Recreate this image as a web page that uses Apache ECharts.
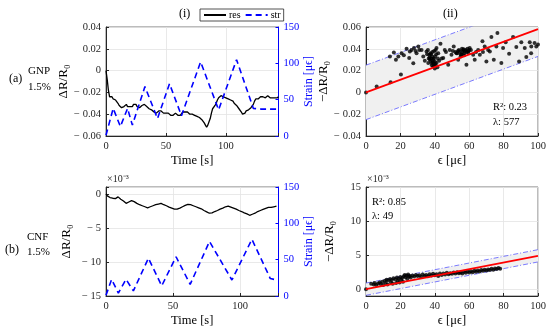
<!DOCTYPE html>
<html><head><meta charset="utf-8">
<script src="https://cdn.jsdelivr.net/npm/echarts@6/dist/echarts.min.js"></script>
<style>html,body{margin:0;padding:0;background:#fff}#c{width:550px;height:331px}</style>
</head><body><div id="c"></div>
<script>
// ---- data ----
const resA = [[0,0.000],[1,-0.008],[2,-0.018],[3,-0.024],[4,-0.025],[5,-0.024],[6,-0.026],[7,-0.025],[8,-0.027],[9,-0.028],[10,-0.030],[11,-0.032],[12,-0.033],[13,-0.034],[14,-0.035],[15,-0.033],[16,-0.032],[17,-0.031],[18,-0.033],[19,-0.034],[20,-0.033],[21,-0.034],[22,-0.033],[23,-0.031],[24,-0.032],[25,-0.031],[26,-0.033],[27,-0.032],[28,-0.034],[29,-0.033],[30,-0.032],[31,-0.033],[32,-0.031],[33,-0.032],[34,-0.033],[35,-0.034],[36,-0.035],[37,-0.034],[38,-0.036],[39,-0.037],[40,-0.038],[41,-0.037],[42,-0.039],[43,-0.039],[44,-0.037],[45,-0.036],[46,-0.037],[47,-0.038],[48,-0.039],[49,-0.038],[50,-0.039],[51,-0.040],[52,-0.039],[53,-0.040],[54,-0.041],[55,-0.040],[56,-0.041],[57,-0.040],[58,-0.039],[59,-0.040],[60,-0.041],[61,-0.040],[62,-0.041],[63,-0.040],[64,-0.038],[65,-0.037],[66,-0.038],[67,-0.039],[68,-0.038],[69,-0.039],[70,-0.040],[71,-0.039],[72,-0.040],[73,-0.041],[74,-0.041],[75,-0.042],[76,-0.042],[77,-0.043],[78,-0.043],[79,-0.044],[80,-0.045],[81,-0.046],[82,-0.048],[83,-0.050],[84,-0.052],[85,-0.050],[86,-0.047],[87,-0.044],[88,-0.039],[89,-0.035],[90,-0.034],[91,-0.032],[92,-0.030],[93,-0.027],[94,-0.025],[95,-0.024],[96,-0.023],[97,-0.022],[98,-0.024],[99,-0.023],[100,-0.025],[101,-0.024],[102,-0.026],[103,-0.026],[104,-0.027],[105,-0.028],[106,-0.028],[107,-0.030],[108,-0.031],[109,-0.032],[110,-0.033],[111,-0.035],[112,-0.036],[113,-0.038],[114,-0.040],[115,-0.040],[116,-0.039],[117,-0.037],[118,-0.036],[119,-0.036],[120,-0.035],[121,-0.034],[122,-0.033],[123,-0.031],[124,-0.028],[125,-0.026],[126,-0.025],[127,-0.026],[128,-0.025],[129,-0.024],[130,-0.025],[131,-0.024],[132,-0.024],[133,-0.025],[134,-0.024],[135,-0.023],[136,-0.024],[137,-0.025],[138,-0.024],[139,-0.025],[140,-0.024],[141,-0.025],[142,-0.024],[143,-0.025],[144,-0.024]];
const strA = [[0,1],[6,38],[12,13],[18,38],[22,15],[32.5,68],[43,24],[53,72],[63,28],[79,102],[94,36],[109,105],[123,38],[130,37],[144,37]];
const resB = [[0,0],[1,-0.3],[2,-0.45],[3,-0.55],[4,-0.6],[5,-0.65],[6,-0.65],[7,-0.7],[8,-0.55],[9,-0.45],[10,-0.6],[11,-0.8],[12,-0.95],[13,-1.05],[14,-1.25],[15,-1.4],[16,-1.35],[17,-1.2],[18,-1.1],[19,-1.0],[20,-1.05],[21,-1.15],[22,-1.3],[23,-1.4],[24,-1.5],[25,-1.6],[26,-1.65],[27,-1.75],[28,-1.85],[29,-1.9],[30,-2.0],[31,-2.05],[32,-2.0],[33,-1.9],[34,-1.85],[35,-1.75],[36,-1.7],[37,-1.6],[38,-1.55],[39,-1.5],[40,-1.45],[41,-1.4],[42,-1.5],[43,-1.6],[44,-1.7],[45,-1.75],[46,-1.85],[47,-1.95],[48,-2.0],[49,-2.1],[50,-2.2],[51,-2.25],[52,-2.3],[53,-2.25],[54,-2.15],[55,-2.1],[56,-2.0],[57,-1.9],[58,-1.8],[59,-1.7],[60,-1.6],[61,-1.55],[62,-1.5],[63,-1.6],[64,-1.65],[65,-1.75],[66,-1.8],[67,-1.9],[68,-2.0],[69,-2.05],[70,-2.1],[71,-2.2],[72,-2.35],[73,-2.45],[74,-2.5],[75,-2.65],[76,-2.75],[77,-2.85],[78,-2.9],[79,-2.8],[80,-2.7],[81,-2.6],[82,-2.5],[83,-2.45],[84,-2.35],[85,-2.25],[86,-2.2],[87,-2.1],[88,-2.0],[89,-1.9],[90,-1.85],[91,-1.8],[92,-1.85],[93,-1.95],[94,-2.0],[95,-2.1],[96,-2.15],[97,-2.25],[98,-2.35],[99,-2.45],[100,-2.55],[101,-2.6],[102,-2.7],[103,-2.8],[104,-2.9],[105,-2.95],[106,-3.05],[107,-3.15],[108,-3.1],[109,-3.0],[110,-2.95],[111,-2.85],[112,-2.75],[113,-2.6],[114,-2.55],[115,-2.45],[116,-2.4],[117,-2.3],[118,-2.25],[119,-2.15],[120,-2.1],[121,-2.0],[122,-1.95],[123,-2.0],[124,-1.95],[125,-1.9],[126,-1.85],[127,-1.8]];
const strB = [[0,1],[4.2,23],[9.2,4],[14.9,23],[20.4,7],[31.6,52],[41.5,14],[52.2,54],[62.7,16],[77.1,75],[93.8,22],[108.7,78],[122.4,24],[127.4,22]];
const scatA = [[0,0],[6.2,0.0054],[14.3,0.0094],[20.3,0.0164],[13.9,0.033],[16.2,0.0367],[17.4,0.030],[18.8,0.033],[20.7,0.036],[22,0.034],[23.6,0.040],[25.1,0.0315],[25.5,0.0376],[26.5,0.039],[27.5,0.0267],[27.9,0.0407],[28.8,0.038],[29.4,0.036],[30.4,0.042],[31,0.039],[32.3,0.039],[33.3,0.033],[34.2,0.029],[35.2,0.0376],[36,0.039],[36.2,0.027],[36.8,0.0345],[37.1,0.0305],[37.5,0.036],[38.1,0.027],[38.5,0.033],[39.1,0.024],[39.5,0.031],[40,0.0284],[40.3,0.026],[40.8,0.035],[41,0.0407],[41.5,0.023],[42,0.036],[42.5,0.029],[43.3,0.0447],[44,0.031],[44.9,0.0315],[45.8,0.039],[46.5,0.037],[47.8,0.0253],[48.7,0.039],[49.7,0.0345],[50.5,0.038],[51,0.042],[52,0.037],[52.6,0.036],[53.6,0.030],[54.5,0.0376],[55,0.035],[55.5,0.0345],[56,0.037],[56.5,0.039],[57,0.036],[58,0.039],[58.4,0.0253],[59,0.040],[59.4,0.0367],[60.3,0.0407],[61,0.039],[62.3,0.0345],[63.2,0.030],[64,0.037],[65.2,0.039],[66.2,0.0345],[67.7,0.047],[68,0.037],[69,0.042],[70,0.0284],[71,0.039],[72,0.0376],[72.9,0.0508],[74.3,0.030],[75.8,0.042],[76.4,0.0545],[78.7,0.027],[79.7,0.0407],[81.2,0.046],[83.2,0.0355],[85.5,0.0508],[87.4,0.0416],[89,0.0284],[90.3,0.046],[92.3,0.0407],[93.2,0.0324],[95.2,0.046],[96,0.036],[96.1,0.042],[98,0.0453],[99,0.042],[100,0.044],[37,0.032],[37.5,0.029],[38,0.031],[38.3,0.025],[38.8,0.028],[39,0.030],[39.3,0.027],[39.8,0.025],[40,0.022],[40.2,0.033],[41,0.027],[41.8,0.031],[36.5,0.031],[37.8,0.035],[38.6,0.037],[39.6,0.038],[40.5,0.039],[35.5,0.035],[53,0.036],[53.5,0.038],[54,0.039],[55.8,0.040],[56.8,0.0395],[57.5,0.038],[58.5,0.037],[59.5,0.038],[60,0.039],[57,0.034],[55,0.033]];
const scatB = [[0,0],[3,0.8],[4.5,0.7],[5,0.9],[6,0.6],[7,0.85],[8,1.0],[8.5,0.75],[9.5,1.1],[10,0.6],[11,1.25],[11.5,0.9],[12,1.4],[12.5,0.7],[13,1.3],[14,1.5],[14.5,1.0],[15,1.35],[15.5,0.8],[16,1.6],[17,1.45],[17.5,0.9],[18,1.7],[18.5,1.2],[19,1.55],[19.5,1.0],[20,1.8],[20.5,1.4],[21,1.65],[21.5,1.1],[22,1.9],[22.5,2.1],[23,1.75],[23.5,2.0],[24,1.5],[24.5,2.15],[25,1.85],[25.5,1.95],[26,1.7],[27,2.0],[28,1.85],[29,2.1],[30,1.95],[31,2.05],[32,1.8],[33,2.15],[34,1.95],[35,2.1],[36,1.9],[37,2.2],[38,2.0],[39,2.25],[40,2.05],[41,2.2],[42,1.95],[43,2.3],[44,2.1],[45,2.3],[46,2.15],[47,2.4],[48,2.2],[49,2.35],[50,2.25],[51,2.45],[52,2.3],[53,2.5],[54,2.35],[55,2.45],[56,2.3],[57,2.55],[58,2.4],[59,2.6],[60,2.45],[61,2.65],[62,2.5],[63,2.7],[64,2.55],[65,2.75],[66,2.6],[67,2.8],[68,2.7],[69,2.85],[70,2.75],[71,2.9],[72,2.8],[73,3.0],[74,2.85],[75,3.05],[76,2.95],[77,3.1],[78,3.0]];
const fitX = [0, 100];
const fitA = [0, 0.058];
const halfA = 0.025;
const fitB = [0, 4.9];
const halfB = 0.9;
// ---- style ----
const SERIF = 'Liberation Serif';
const AX = '#262626';
const BLUE = '#0000ff';
const BANDC = '#5a5aff';
const GRIDC = '#e3e3e3';
const fmtNum = v => { const r = +(+v).toFixed(4); return r < 0 ? '\u2212 ' + Math.abs(r) : String(r); };
function xAx(grid, min, max, interval, name, fmt) {
  return { type:'value', gridIndex:grid, min, max, interval, name, nameLocation:'middle', nameGap:18,
    nameTextStyle:{fontFamily:SERIF, fontSize:12.5, color:'#000'},
    axisLine:{show:true, onZero:false, lineStyle:{color:AX, width:1}}, axisTick:{show:true, inside:true, length:3, lineStyle:{color:AX}},
    axisLabel:{fontFamily:SERIF, fontSize:10.5, color:'#262626', margin:5, formatter: fmt},
    splitLine:{show:true, lineStyle:{color:GRIDC, width:0.8}} };
}
function yAx(grid, min, max, interval, name, gap, fmt, opts) {
  const o = { type:'value', gridIndex:grid, min, max, name, nameLocation:'middle', nameGap:gap, nameRotate:90,
    nameTextStyle:{fontFamily:SERIF, fontSize:13, color:'#000'},
    axisLine:{show:true, onZero:false, lineStyle:{color:AX, width:1}}, axisTick:{show:true, inside:true, length:3, lineStyle:{color:AX}},
    axisLabel:{fontFamily:SERIF, fontSize:10.5, color:'#262626', margin:5, formatter: fmt},
    splitLine:{show:true, lineStyle:{color:GRIDC, width:0.8}} };
  if (interval != null) o.interval = interval;
  return Object.assign(o, opts || {});
}
function rightAx(grid) {
  return { type:'value', gridIndex:grid, position:'right', min:0, max:150, interval:50, name:'Strain [\u03bc\u03f5]',
    nameLocation:'middle', nameGap:24, nameRotate:90,
    nameTextStyle:{fontFamily:SERIF, fontSize:12, color:BLUE},
    axisLine:{show:true, onZero:false, lineStyle:{color:BLUE, width:1}}, axisTick:{show:true, inside:true, length:3, lineStyle:{color:BLUE}},
    axisLabel:{fontFamily:SERIF, fontSize:10.5, color:BLUE, margin:5}, splitLine:{show:false} };
}
const tickFmt = step => v => (Math.abs(v / step - Math.round(v / step)) < 1e-6 ? fmtNum(v) : '');
const grids = [
  {left:106, top:27, width:172.5, height:109},
  {left:366, top:27, width:172, height:109},
  {left:106, top:187, width:172.5, height:109},
  {left:366, top:187, width:172, height:109}
].map(g => Object.assign(g, {show:true, borderColor:'#555', borderWidth:0.8, backgroundColor:'transparent', containLabel:false}));

function bandSeries(xi, yi, fit, half) {
  const lo = fit.map(v => v - half), hi = fit.map(v => v + half);
  return [
    { type:'custom', xAxisIndex:xi, yAxisIndex:yi, z:1, silent:true,
      data:[[fitX[0], lo[0], hi[0], fitX[1], lo[1], hi[1]]],
      renderItem:(params, api) => {
        const a = api.coord([api.value(0), api.value(1)]);
        const b = api.coord([api.value(0), api.value(2)]);
        const c = api.coord([api.value(3), api.value(5)]);
        const d = api.coord([api.value(3), api.value(4)]);
        const cs = params.coordSys;
        return { type:'polygon', shape:{points:[a,b,c,d]}, style:{fill:'#f0f0f0'},
          clipPath:{type:'rect', shape:{x:cs.x, y:cs.y, width:cs.width, height:cs.height}} };
      } },
    { type:'line', xAxisIndex:xi, yAxisIndex:yi, symbol:'none', z:3, silent:true, data: fitX.map((x,i)=>[x, lo[i]]),
      lineStyle:{color:BANDC, width:0.8, type:[5,2,1,2]} },
    { type:'line', xAxisIndex:xi, yAxisIndex:yi, symbol:'none', z:3, silent:true, data: fitX.map((x,i)=>[x, hi[i]]),
      lineStyle:{color:BANDC, width:0.8, type:[5,2,1,2]} },
    { type:'line', xAxisIndex:xi, yAxisIndex:yi, symbol:'none', z:5, silent:true, data: fitX.map((x,i)=>[x, fit[i]]),
      lineStyle:{color:'#ff0000', width:1.8} }
  ];
}

const option = {
  animation:false, backgroundColor:'#fff',
  grid: grids,
  legend: { data:['res','str'], left:200, top:9, itemWidth:22, itemHeight:10, itemGap:4, padding:[1,3,1,3],
    borderColor:AX, borderWidth:0.8, backgroundColor:'#fff',
    itemStyle:{opacity:0},
    textStyle:{fontFamily:SERIF, fontSize:10, color:'#000', padding:[0,0,0,-2]} },
  xAxis: [
    xAx(0, 0, 144, 50, 'Time [s]', tickFmt(50)),
    xAx(1, 0, 100, 20, '\u03f5 [\u03bc\u03f5]', null),
    xAx(2, 0, 128.5, 50, 'Time [s]', tickFmt(50)),
    xAx(3, 0, 100, 20, '\u03f5 [\u03bc\u03f5]', null)
  ],
  yAxis: [
    yAx(0, -0.06, 0.04, 0.02, '\u0394R/R\u2080', 33, fmtNum),
    rightAx(0),
    yAx(1, -0.04, 0.06, 0.02, '\u2212\u0394R/R\u2080', 30, fmtNum),
    yAx(2, -15, 1, 5, '\u0394R/R\u2080', 33, tickFmt(5)),
    rightAx(2),
    yAx(3, -1, 15, null, '\u2212\u0394R/R\u2080', 30, tickFmt(5), {splitNumber:3})
  ],
  series: [
    { name:'res', type:'line', xAxisIndex:0, yAxisIndex:0, symbol:'none', data:resA, z:4, lineStyle:{color:'#000', width:1.3}, itemStyle:{color:'#000'} },
    { name:'str', type:'line', xAxisIndex:0, yAxisIndex:1, symbol:'none', data:strA, z:4, lineStyle:{color:BLUE, width:1.6, type:[6,4]}, itemStyle:{color:BLUE} },
    { name:'res', type:'line', xAxisIndex:2, yAxisIndex:3, symbol:'none', data:resB, z:4, lineStyle:{color:'#000', width:1.3}, itemStyle:{color:'#000'} },
    { name:'str', type:'line', xAxisIndex:2, yAxisIndex:4, symbol:'none', data:strB, z:4, lineStyle:{color:BLUE, width:1.6, type:[6,4]}, itemStyle:{color:BLUE} },
    ...bandSeries(1, 2, fitA, halfA),
    ...bandSeries(3, 5, fitB, halfB),
    { type:'scatter', xAxisIndex:1, yAxisIndex:2, data:scatA, symbolSize:4, z:4, itemStyle:{color:'#000'} },
    { type:'scatter', xAxisIndex:3, yAxisIndex:5, data:scatB, symbolSize:4, z:4, itemStyle:{color:'#000'} }
  ],
  graphic: [
    {type:'text', left:179, top:8, style:{text:'(i)', font:'12px "Liberation Serif"', fill:'#000'}},
    {type:'text', left:443, top:8, style:{text:'(ii)', font:'12px "Liberation Serif"', fill:'#000'}},
    {type:'text', left:9, top:73, style:{text:'(a)', font:'12px "Liberation Serif"', fill:'#000'}},
    {type:'text', left:28, top:66, style:{text:'GNP', font:'11px "Liberation Serif"', fill:'#000'}},
    {type:'text', left:28, top:82, style:{text:'1.5%', font:'11px "Liberation Serif"', fill:'#000'}},
    {type:'text', left:5, top:244, style:{text:'(b)', font:'12px "Liberation Serif"', fill:'#000'}},
    {type:'text', left:27, top:232, style:{text:'CNF', font:'11px "Liberation Serif"', fill:'#000'}},
    {type:'text', left:27, top:247, style:{text:'1.5%', font:'11px "Liberation Serif"', fill:'#000'}},
    {type:'text', left:493, top:102, style:{text:'R\u00b2: 0.23', font:'10.5px "Liberation Serif"', fill:'#000'}},
    {type:'text', left:493, top:117, style:{text:'\u03bb: 577', font:'10.5px "Liberation Serif"', fill:'#000'}},
    {type:'text', left:372, top:197, style:{text:'R\u00b2: 0.85', font:'10.5px "Liberation Serif"', fill:'#000'}},
    {type:'text', left:372, top:211, style:{text:'\u03bb: 49', font:'10.5px "Liberation Serif"', fill:'#000'}},
    {type:'text', left:107, top:174, style:{text:'\u00d710\u207b\u00b3', font:'10px "Liberation Serif"', fill:'#262626'}},
    {type:'text', left:367, top:174, style:{text:'\u00d710\u207b\u00b3', font:'10px "Liberation Serif"', fill:'#262626'}}
  ]
};
const chart = echarts.init(document.getElementById('c'), null, {renderer:'canvas'});
chart.setOption(option);
</script></body></html>
